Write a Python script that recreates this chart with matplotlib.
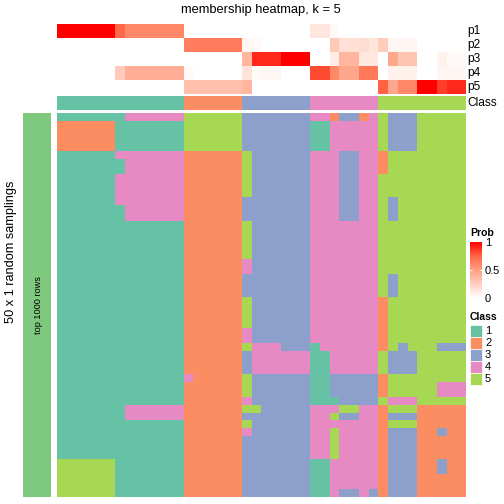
import numpy as np
import matplotlib.pyplot as plt
from matplotlib.colors import ListedColormap, LinearSegmentedColormap
from matplotlib.patches import Rectangle

plt.rcParams['font.family'] = ['Liberation Sans', 'DejaVu Sans']

W, H = 504, 504

# membership probabilities of the 42 samples (columns) for each class
p1 = [1.0, 1.0, 1.0, 1.0, 1.0, 1.0, 0.74, 0.6, 0.6, 0.6, 0.6, 0.6, 0.6,
      0, 0, 0, 0, 0, 0, 0, 0, 0, 0, 0, 0, 0,
      0.13, 0.13, 0.03, 0, 0, 0, 0,
      0, 0, 0, 0, 0, 0, 0, 0, 0]
p2 = [0, 0, 0, 0, 0, 0, 0, 0, 0, 0, 0, 0, 0,
      0.64, 0.66, 0.66, 0.66, 0.66, 0.66,
      0.05, 0.03, 0, 0, 0, 0, 0,
      0, 0, 0.28, 0.16, 0.16, 0.18, 0.13,
      0.26, 0.05, 0.05, 0.05, 0, 0, 0, 0, 0]
p3 = [0, 0, 0, 0, 0, 0, 0, 0, 0, 0, 0, 0, 0,
      0, 0, 0, 0, 0, 0,
      0.38, 0.9, 0.9, 0.9, 1.0, 1.0, 1.0,
      0, 0, 0.1, 0.38, 0.38, 0.12, 0.12,
      0, 0.45, 0.3, 0.3, 0, 0, 0.07, 0.03, 0.03]
p4 = [0, 0, 0, 0, 0, 0, 0.27, 0.42, 0.42, 0.42, 0.42, 0.42, 0.42,
      0.03, 0, 0, 0, 0, 0,
      0.15, 0.03, 0.04, 0.04, 0, 0, 0,
      0.82, 0.82, 0.6, 0.45, 0.45, 0.67, 0.67,
      0, 0.07, 0.07, 0.07, 0, 0, 0.05, 0.05, 0.05]
p5 = [0, 0, 0, 0, 0, 0, 0, 0, 0, 0, 0, 0, 0,
      0.33, 0.33, 0.33, 0.33, 0.33, 0.33,
      0.38, 0, 0, 0, 0, 0, 0,
      0, 0, 0, 0, 0, 0, 0,
      0.76, 0.45, 0.6, 0.6, 1.0, 1.0, 0.85, 0.9, 0.9]
row_names = ["p1", "p2", "p3", "p4", "p5"]

class_labels = [1, 1, 1, 1, 1, 1, 1, 1, 1, 1, 1, 1, 1,
                2, 2, 2, 2, 2, 2,
                3, 3, 3, 3, 3, 3, 3,
                4, 4, 4, 4, 4, 4, 4,
                5, 5, 5, 5, 5, 5, 5, 5, 5]

# class assigned in each of the 50 random samplings (rows), blocks follow the class split
samplings = [
    "1111111444444 555555 3333333 4423324 533355555",
    "2222221111111 555555 3333333 1144444 533355555",
    "2222221111111 555555 3333333 1144444 533355555",
    "2222221111111 555555 3333333 1144444 533355555",
    "2222221111111 555555 3333333 1144444 533355555",
    "1111114444444 222222 5333333 4443344 255555555",
    "1111111444444 222222 5333333 4443344 255555555",
    "1111111444444 222222 5333333 4443344 255555555",
    "1111114444444 222222 5333333 4443344 555555555",
    "1111114444444 222222 5333333 4443344 555555555",
    "1111114444444 222222 5333333 4443344 555555555",
    "1111114444444 222222 3333333 4443344 535555555",
    "1111111444444 222222 3333333 4443344 535555555",
    "1111111444444 222222 3333333 4443344 535555555",
    "1111111111111 222222 5333333 4444444 555555555",
    "1111111111111 222222 5333333 4444444 555555555",
    "1111111111111 222222 5333333 4444444 555555555",
    "1111111111111 222222 5333333 4444444 555555555",
    "1111111111111 222222 5333333 4444444 555555555",
    "1111111111111 222222 4333333 4444444 555555555",
    "1111111111111 222222 4333333 4444444 555555555",
    "1111111111111 222222 3333333 4444444 535555555",
    "1111111111111 222222 3333333 4444444 535555555",
    "1111111111111 222222 3333333 4444444 535555555",
    "1111111111111 222222 5333333 4444444 255555555",
    "1111111111111 222222 5333333 4444444 255555555",
    "1111111111111 222222 5333333 4444444 255555555",
    "1111111111111 222222 5333333 4444444 255555555",
    "1111111111111 222222 4333333 4444444 255555555",
    "1111111111111 222222 4333333 4444444 255555555",
    "1111111111111 222222 5444333 1444444 253555333",
    "1111111111111 222222 3444444 1144444 533355555",
    "1111111111111 222222 3444444 1144444 533355555",
    "1111111111111 222222 3444444 1144444 533355555",
    "1111111111111 422222 5333333 1133333 255555555",
    "1111111111111 222222 5333333 1133333 255555444",
    "1111111111111 222222 5333333 1133333 255555444",
    "1111111111111 222222 4333333 1113333 544455555",
    "1111111444444 222222 5533333 4445544 255522222",
    "1111111444444 222222 3333333 4453344 233322222",
    "1111111111111 222222 5333333 4444444 255522222",
    "1111111111111 222222 4333333 4454444 233322322",
    "1111111111111 222222 3333333 4454444 233322222",
    "1111111111111 222222 3333333 4454444 233322222",
    "1111111111111 222222 3333333 4454444 233322222",
    "5555551111111 222222 3333333 1144444 233322322",
    "5555551111111 222222 3333333 1144444 233322322",
    "5555551111111 222222 3333333 1144444 233322222",
    "5555551111111 222222 3333333 1144444 233322222",
    "5555551111111 222222 3333333 1143343 233322222",
]

class_colors = ["#66C2A5", "#FC8D62", "#8DA0CB", "#E78AC3", "#A6D854"]
class_names = ["1", "2", "3", "4", "5"]
prob_ticks = [0, 0.5, 1]
prob_tick_labels = ["0", "0.5", "1"]

prob_cmap = LinearSegmentedColormap.from_list(
    "prob", ["#FFFFFF", "#FFCFBF", "#FF9E81", "#FF6746", "#FF0000"])
class_cmap = ListedColormap(class_colors)

fig = plt.figure(figsize=(W / 100, H / 100), dpi=100)


def px_axes(x0, y0, x1, y1):
    # axes placed with pixel coordinates (top-left origin)
    ax = fig.add_axes([x0 / W, 1 - y1 / H, (x1 - x0) / W, (y1 - y0) / H])
    ax.set_axis_off()
    return ax


hm_left, hm_right = 56.7, 464.7

# probability annotation
prob = np.array([p1, p2, p3, p4, p5])
ax_p = px_axes(hm_left, 24, hm_right, 94)
ax_p.imshow(prob, cmap=prob_cmap, vmin=0, vmax=1, aspect='auto',
            interpolation='nearest')

# class annotation
ax_c = px_axes(hm_left, 96, hm_right, 110)
ax_c.imshow(np.array([class_labels]) - 1, cmap=class_cmap, vmin=-0.5,
            vmax=4.5, aspect='auto', interpolation='nearest')

# main heatmap
mat = np.array([[int(c) for c in r.replace(" ", "")] for r in samplings])
ax_m = px_axes(hm_left, 113, hm_right, 497)
ax_m.imshow(mat - 1, cmap=class_cmap, vmin=-0.5, vmax=4.5, aspect='auto',
            interpolation='nearest')

# left row-group bar
ax_l = px_axes(22.7, 113, 51, 497)
ax_l.add_patch(Rectangle((0, 0), 1, 1, transform=ax_l.transAxes,
                         color="#7FC97F"))
ax_l.text(0.55, 0.5, "top 1000 rows", rotation=90, ha='center',
          va='center', fontsize=6.6, transform=ax_l.transAxes)

# text overlay in pixel units
ax_t = fig.add_axes([0, 0, 1, 1])
ax_t.set_xlim(0, W)
ax_t.set_ylim(H, 0)
ax_t.set_axis_off()

ax_t.text((hm_left + hm_right) / 2, 10, "membership heatmap, k = 5",
          ha='center', va='center', fontsize=9.3)
ax_t.text(11, 252, "50 x 1 random samplings", rotation=90, ha='center',
          va='center', fontsize=9.2)

for i, name in enumerate(row_names + ["Class"]):
    y = 24 + 14 * i + 7 if i < 5 else 103
    ax_t.text(467, y, name, ha='left', va='center', fontsize=8.6)

# Prob legend
ax_t.text(470, 233, "Prob", ha='left', va='center', fontsize=7.5,
          fontweight='bold')
ax_cb = fig.add_axes([470 / W, 1 - 298 / H, 12 / W, 56 / H])
cb = fig.colorbar(plt.cm.ScalarMappable(norm=plt.Normalize(0, 1),
                                        cmap=prob_cmap),
                  cax=ax_cb, ticks=prob_ticks)
cb.outline.set_visible(False)
cb.ax.set_yticklabels(prob_tick_labels)
cb.ax.tick_params(length=0, labelsize=8, pad=2)
cb.ax.hlines(0.5, 0, 0.2, color='white', lw=0.8)
cb.ax.hlines(0.5, 0.8, 1, color='white', lw=0.8)

# Class legend
ax_t.text(470, 317, "Class", ha='left', va='center', fontsize=7.5,
          fontweight='bold')
for i, (col, name) in enumerate(zip(class_colors, class_names)):
    y0 = 325 + 12 * i
    ax_t.add_patch(Rectangle((470, y0), 12, 12, facecolor=col,
                             edgecolor='white', lw=0.5))
    ax_t.text(485, y0 + 6, name, ha='left', va='center', fontsize=8)

fig.savefig("out.png", dpi=100)
